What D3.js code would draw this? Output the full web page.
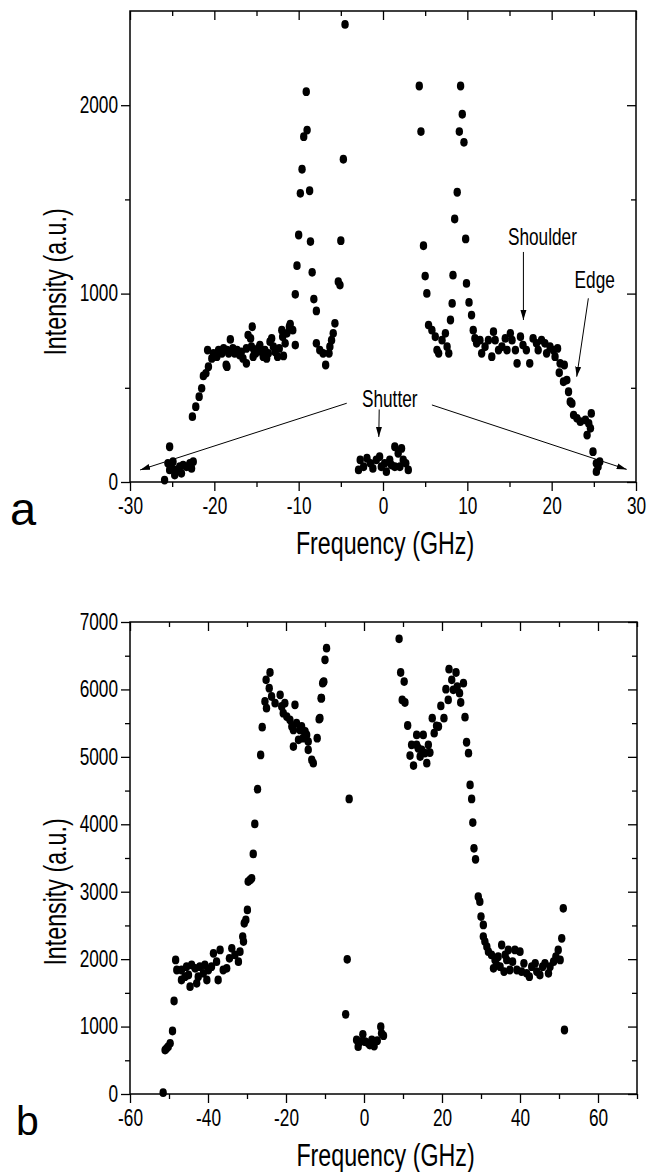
<!DOCTYPE html>
<html>
<head>
<meta charset="utf-8">
<script src="https://cdn.jsdelivr.net/npm/d3@7"></script>
<style>
  body { margin: 0; background: #fff; }
  text { font-family: "Liberation Sans", Arial, sans-serif; fill: #000; }
</style>
</head>
<body>
<div id="chart"></div>
<script>
// ---- panel a : frequency (GHz), intensity (a.u.)
var aShutterLeft = [[-25.3,187],[-25.9,10],[-25.5,99],[-25.1,81],[-24.9,108],[-24.5,64],[-24.1,81],[-23.7,90],
  [-23.3,81],[-22.9,99],[-22.5,108],[-22.7,72],[-23.9,46],[-24.7,37],[-25.3,64]];
var aWingLeft = [[-22.6,347],[-22.2,400],[-21.8,453],[-21.5,497],[-21.3,563],[-21.0,577],[-20.7,612],[-20.8,700],
  [-20.3,656],[-20.1,683],[-19.7,665],[-19.5,700],[-19.1,683],[-18.9,709],[-18.5,700],[-18.6,621],[-18.3,683],
  [-18.1,757],[-17.8,709],[-17.6,683],[-17.3,700],[-17.0,674],[-16.8,691],[-16.6,656],[-16.2,630],[-16.0,780],
  [-15.7,762],[-15.5,824],[-15.6,718],[-15.3,700],[-15.1,683],[-14.8,709],[-14.6,727],[-14.4,691],[-14.2,665],
  [-14.0,700],[-13.8,656],[-13.6,683],[-13.4,745],[-13.2,762],[-13.0,718],[-12.8,691],[-12.5,665],[-12.3,709],
  [-12.0,806],[-11.9,771],[-11.6,736],[-11.4,789],[-11.1,824],[-11.0,838],[-10.7,806],[-10.4,727],[-11.8,669],
  [-15.4,665],[-16.2,709],[-18.5,612]];
var aPeaks = [[-10.2,1148],[-8.4,1113],[-10.4,996],[-8.2,971],[-7.9,908],[-9.1,2072],[-9.0,1868],[-9.4,1833],
  [-9.6,1660],[-9.8,1532],[-8.7,1546],[-10.0,1311],[-8.6,1276],[-7.9,736],[-7.5,700],[-7.1,683],[-6.8,621],
  [-6.4,683],[-6.3,718],[-5.9,789],[-5.7,842],[-6.1,753],[-5.3,1063],[-5.1,1045],[-5.0,1281],[-4.7,1713],
  [-4.5,2429],[4.3,2102],[4.5,1860],[4.8,1254],[5.0,1093],[5.2,1001],[5.4,833],[5.8,806],[6.2,771],[6.4,700],
  [6.6,683],[7.0,753],[7.4,789],[7.6,718],[7.8,683],[8.0,860],[8.2,948],[8.3,1098],[8.5,1396],[8.8,1538],
  [9.05,1860],[9.2,2102],[9.4,1952],[9.6,1803],[9.8,1290],[9.9,1054],[10.2,953],[10.5,886],[10.7,806]];
var aShutterCenter = [[-2.7,117],[-2.9,64],[-2.3,81],[-1.9,126],[-1.5,99],[-1.2,72],[-0.8,117],[-0.4,134],
  [-0.2,81],[0.2,99],[0.4,55],[0.8,117],[1.0,90],[1.4,187],[1.8,152],[2.2,178],[2.4,117],[2.7,99],[3.0,64],
  [2.0,81],[1.4,81]];
var aWingRight = [[10.9,762],[11.1,736],[11.5,753],[11.7,683],[12.1,718],[12.5,753],[12.9,665],[13.1,798],
  [13.3,753],[13.7,700],[14.1,718],[14.5,762],[14.7,700],[15.1,789],[15.3,753],[15.7,700],[15.9,630],[16.3,771],
  [16.6,727],[17.0,700],[17.4,630],[17.8,762],[18.2,736],[18.4,700],[18.8,753],[19.2,736],[19.4,683],[19.8,718],
  [20.2,700],[20.4,665],[20.7,709],[21.0,630],[21.5,621],[20.9,580],[21.4,532],[21.8,541],[22.0,479],[22.2,426],
  [22.4,417],[22.6,355],[23.0,338],[23.4,320],[24.0,329],[24.4,311],[24.7,364],[24.6,285],[24.2,249],[24.9,161],
  [25.3,99],[25.7,108],[25.3,55],[25.5,81]];

var aXMajor = [-30, -20, -10, 0, 10, 20, 30];
var aXMinor = [-25, -15, -5, 5, 15, 25];
var aYMajor = [0, 1000, 2000];
var aYMinor = [500, 1500];

// ---- panel b
var bWingLeft = [[-51.5,19],[-51.0,652],[-50.6,677],[-50.2,702],[-49.7,751],[-49.1,934],[-48.7,1379],[-48.3,1988],
  [-48.0,1839],[-46.8,1839],[-46.8,1691],[-45.9,1740],[-45.5,1889],[-45.0,1765],[-44.6,1592],[-44.2,1913],
  [-43.3,1864],[-42.9,1641],[-42.5,1740],[-42.1,1889],[-41.2,1790],[-40.8,1913],[-40.3,1691],[-39.9,1839],
  [-39.1,1889],[-38.6,2087],[-37.8,1963],[-37.4,1691],[-36.9,2136],[-36.1,1839],[-35.2,1864],[-34.5,2012],
  [-33.9,2161],[-33.1,2062],[-32.2,1963],[-31.8,2111],[-30.9,2260],[-31.1,2334],[-30.7,2532],[-30.3,2581],
  [-29.9,2730],[-29.7,3150],[-29.2,3175],[-28.8,3199],[-28.4,3560],[-28.0,4006],[-27.3,4520],[-26.5,5029],
  [-26.1,5440]];
var bBandLeft = [[-25.4,5821],[-25.1,6142],[-25.0,5722],[-24.3,6019],[-24.1,6251],[-23.7,5895],[-22.8,5796],
  [-21.5,5920],[-21.1,5747],[-20.7,5648],[-20.3,5796],[-19.8,5598],[-19.0,5549],[-18.5,5450],[-18.1,5400],
  [-18.1,5153],[-17.7,5771],[-17.3,5499],[-16.8,5252],[-16.4,5400],[-16.0,5450],[-15.6,5277],[-15.1,5376],
  [-14.7,5326],[-14.3,5227],[-14.3,5104],[-13.4,4955],[-13.0,4906],[-12.0,5277],[-11.5,5559],[-11.3,5573],
  [-11.0,5870],[-10.9,5870],[-10.6,6093],[-10.4,6108],[-10.3,6117],[-10.0,6439],[-9.6,6612]];
var bCenter = [[-4.3,1998],[-4.7,1181],[-3.8,4376],[-1.9,801],[-1.5,702],[-1.0,776],[-0.3,885],[0.3,776],
  [1.1,751],[1.5,726],[2.0,801],[2.6,712],[3.4,791],[4.3,998],[4.5,900],[5.0,865]];
var bBandRight = [[9.0,6751],[9.4,6251],[9.8,5845],[10.3,6117],[10.5,5806],[11.2,5465],[11.8,5019],[12.2,5178],
  [12.7,4871],[13.5,5326],[13.5,5178],[13.9,5128],[14.4,5005],[14.8,5104],[15.2,5326],[15.6,5054],[16.1,4906],
  [16.5,5178],[16.9,5064],[17.5,5573],[18.0,5351],[18.6,5460],[19.1,5450],[19.7,5756],[20.5,5573],[21.0,6004],
  [21.6,5845],[21.8,6300],[22.5,6142],[22.9,5994],[23.6,6251],[23.9,6043],[24.5,5944],[24.8,5806],[25.5,6093],
  [25.9,5588],[26.3,5217],[26.8,5054],[27.2,4584],[27.6,4376],[27.9,4025],[28.2,3644],[28.6,3481]];
var bWingRight = [[29.3,2927],[29.7,2853],[30.0,2631],[30.6,2507],[30.6,2334],[31.0,2260],[31.5,2185],[31.9,2111],
  [32.7,2062],[33.2,1864],[33.6,1988],[34.0,1913],[34.4,2037],[34.9,1889],[35.3,2210],[35.9,1815],[36.2,2062],
  [36.6,1988],[37.0,2136],[37.4,1839],[38.1,1963],[38.7,2136],[39.2,1839],[40.0,2111],[40.4,1815],[41.0,1938],
  [41.7,1790],[42.4,1740],[43.0,1889],[43.9,1938],[44.3,1815],[45.1,1765],[45.8,1889],[46.4,1938],[47.3,1790],
  [47.7,1889],[48.6,1963],[49.2,2037],[49.8,2136],[50.3,1988],[50.7,2309],[51.1,2754],[51.4,949]];

var bXMajor = [-60, -40, -20, 0, 20, 40, 60];
var bXMinor = [-50, -30, -10, 10, 30, 50, 70];
var bYMajor = [0, 1000, 2000, 3000, 4000, 5000, 6000, 7000];
var bYMinor = [500, 1500, 2500, 3500, 4500, 5500, 6500];

// annotations of panel a (data coordinates)
var aLabels = [
  { text: "Shoulder", f: 18.9, i: 1258 },
  { text: "Edge", f: 25.1, i: 1030 },
  { text: "Shutter", f: 0.8, i: 398 }
];
var aArrows = [
  { from: [16.65, 1221], to: [16.65, 860] },
  { from: [24.35, 975], to: [22.97, 559] },
  { from: [-4.3, 418], to: [-28.8, 64] },
  { from: [-0.45, 385], to: [-0.5, 239] },
  { from: [5.8, 409], to: [28.9, 67] }
];

var SX = 0.75; // lettering of the scan is narrow
var svg = d3.select("#chart").append("svg").attr("width", 649).attr("height", 1172);

svg.append("defs").append("marker")
  .attr("id", "head")
  .attr("markerUnits", "userSpaceOnUse")
  .attr("markerWidth", 10).attr("markerHeight", 8)
  .attr("refX", 10).attr("refY", 4)
  .attr("orient", "auto")
  .append("path").attr("d", "M0,1 L10,4 L0,7 Z").attr("fill", "#000");

function drawPanel(p) {
  var x = d3.scaleLinear().domain(p.xDomain).range([p.left, p.right]);
  var y = d3.scaleLinear().domain(p.yDomain).range([p.bottom, p.top]);
  var g = svg.append("g");

  p.groups.forEach(function (arr) {
    g.selectAll(null).data(arr).enter().append("ellipse")
      .attr("cx", function (d) { return x(d[0]); })
      .attr("cy", function (d) { return y(d[1]); })
      .attr("rx", 3.7).attr("ry", 4.4)
      .attr("fill", "#000");
  });

  function style(ax) {
    ax.select(".domain").remove();
    ax.selectAll("line").attr("stroke", "#000").attr("stroke-width", 1.3);
    ax.attr("font-size", 23).attr("font-family", "Liberation Sans, Arial, sans-serif");
  }
  var fmt = function (d) { return String(d); };

  // bottom
  g.append("g").attr("transform", "translate(0," + p.bottom + ")")
    .call(d3.axisBottom(x).tickValues(p.xMajor).tickSize(9).tickPadding(7).tickFormat(fmt))
    .call(style)
    .selectAll("text").attr("transform", "scale(" + SX + ",1)");
  g.append("g").attr("transform", "translate(0," + p.bottom + ")")
    .call(d3.axisBottom(x).tickValues(p.xMinor).tickSize(5).tickFormat(""))
    .call(style);
  // top (inward)
  g.append("g").attr("transform", "translate(0," + p.top + ")")
    .call(d3.axisTop(x).tickValues(p.xMajor).tickSize(-9).tickFormat(""))
    .call(style);
  g.append("g").attr("transform", "translate(0," + p.top + ")")
    .call(d3.axisTop(x).tickValues(p.xMinor).tickSize(-5).tickFormat(""))
    .call(style);
  // left
  g.append("g").attr("transform", "translate(" + p.left + ",0)")
    .call(d3.axisLeft(y).tickValues(p.yMajor).tickSize(9).tickPadding(3).tickFormat(fmt))
    .call(style)
    .selectAll("text").attr("x", -12 / SX).attr("transform", "scale(" + SX + ",1)");
  g.append("g").attr("transform", "translate(" + p.left + ",0)")
    .call(d3.axisLeft(y).tickValues(p.yMinor).tickSize(5).tickFormat(""))
    .call(style);
  // right (inward)
  g.append("g").attr("transform", "translate(" + p.right + ",0)")
    .call(d3.axisRight(y).tickValues(p.yMajor).tickSize(-9).tickFormat(""))
    .call(style);
  g.append("g").attr("transform", "translate(" + p.right + ",0)")
    .call(d3.axisRight(y).tickValues(p.yMinor).tickSize(-5).tickFormat(""))
    .call(style);

  g.append("rect")
    .attr("x", p.left).attr("y", p.top)
    .attr("width", p.right - p.left).attr("height", p.bottom - p.top)
    .attr("fill", "none").attr("stroke", "#000").attr("stroke-width", 1.5);

  // axis titles
  g.append("text")
    .attr("transform", "translate(" + ((p.left + p.right) / 2 + 2) + "," + (p.bottom + 72) + ") scale(" + SX + ",1)")
    .attr("text-anchor", "middle").attr("font-size", 31)
    .text("Frequency (GHz)");
  g.append("text")
    .attr("transform", "translate(66," + p.yTitleMid + ") rotate(-90) scale(" + SX + ",1)")
    .attr("text-anchor", "middle").attr("font-size", 31)
    .text("Intensity (a.u.)");
  g.append("text")
    .attr("x", p.tagX).attr("y", p.tagY)
    .attr("font-size", p.tagSize)
    .text(p.tag);

  return { x: x, y: y, g: g };
}

var pa = drawPanel({
  xDomain: [-30, 30], yDomain: [0, 2500],
  left: 130, right: 636, top: 11, bottom: 482,
  groups: [aShutterLeft, aWingLeft, aPeaks, aShutterCenter, aWingRight],
  xMajor: aXMajor, xMinor: aXMinor, yMajor: aYMajor, yMinor: aYMinor,
  yTitleMid: 282, tag: "a", tagX: 10, tagY: 525, tagSize: 47
});

var pb = drawPanel({
  xDomain: [-60, 70], yDomain: [0, 7000],
  left: 130, right: 637, top: 622, bottom: 1094,
  groups: [bWingLeft, bBandLeft, bCenter, bBandRight, bWingRight],
  xMajor: bXMajor, xMinor: bXMinor, yMajor: bYMajor, yMinor: bYMinor,
  yTitleMid: 892, tag: "b", tagX: 16, tagY: 1135, tagSize: 41
});

// annotations on panel a
pa.g.selectAll(null).data(aArrows).enter().append("line")
  .attr("x1", function (d) { return pa.x(d.from[0]); })
  .attr("y1", function (d) { return pa.y(d.from[1]); })
  .attr("x2", function (d) { return pa.x(d.to[0]); })
  .attr("y2", function (d) { return pa.y(d.to[1]); })
  .attr("stroke", "#000").attr("stroke-width", 1)
  .attr("marker-end", "url(#head)");

pa.g.selectAll(null).data(aLabels).enter().append("text")
  .attr("transform", function (d) {
    return "translate(" + pa.x(d.f) + "," + pa.y(d.i) + ") scale(" + SX + ",1)";
  })
  .attr("text-anchor", "middle").attr("font-size", 23)
  .text(function (d) { return d.text; });
</script>
</body>
</html>
